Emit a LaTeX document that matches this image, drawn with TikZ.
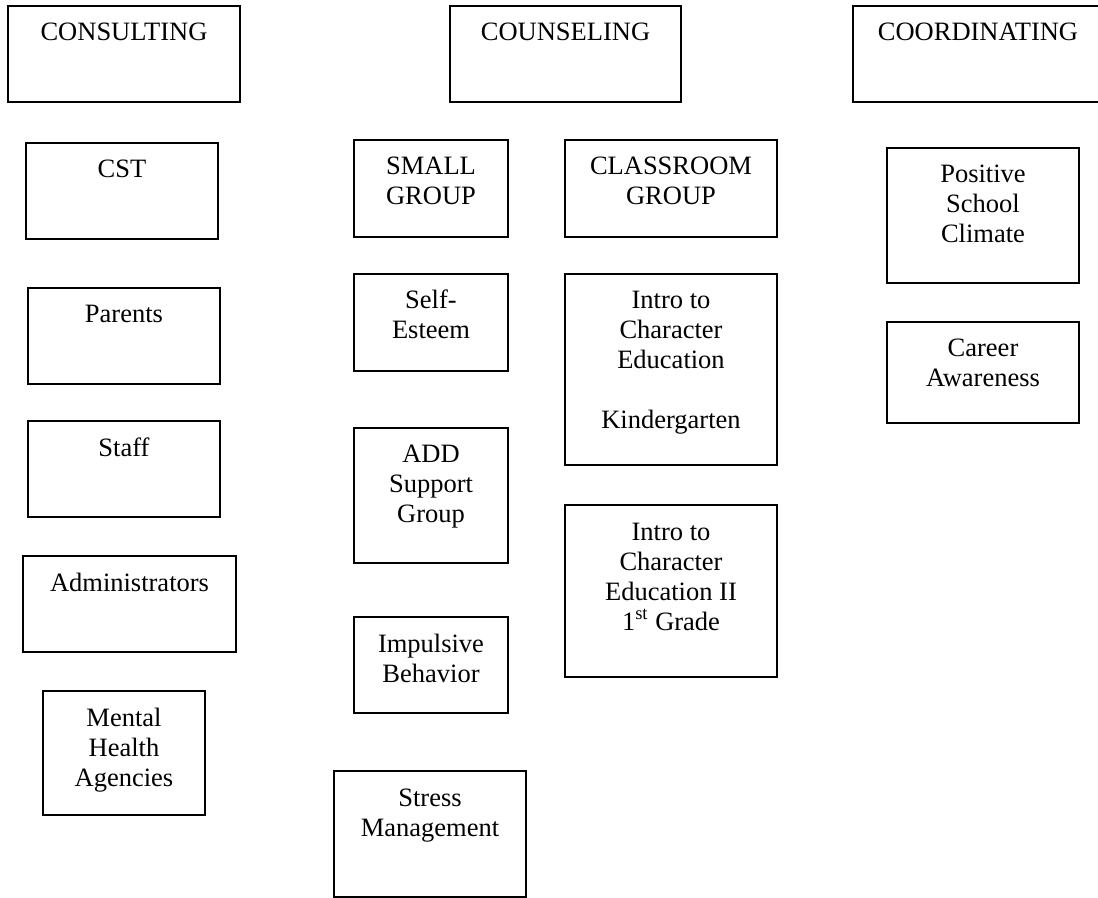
\documentclass[tikz,border=0pt]{standalone}
\usepackage{fontspec}
\setmainfont{Liberation Serif}

% top-aligned, centred text in a box of fixed size (width, height, text)
\newcommand{\boxtext}[3]{\parbox[c][#2][t]{#1}{\centering\rule{0pt}{17.5pt}#3}}

\begin{document}
\begin{tikzpicture}[
            x=0.5pt, y=-0.5pt,
            unit/.style={draw, line width=1pt, anchor=north west, inner sep=0pt, outer sep=0pt,
                         font=\fontsize{13.25pt}{15pt}\selectfont}
                           ]
            % 1. Page frame
            \useasboundingbox (0,0) rectangle (1098,898);
            \clip (0,0) rectangle (1098,898);

            % 2. The three headings
            \node[unit] (consulting)   at (8,6)   {\boxtext{116pt}{48pt}{CONSULTING}};
            \node[unit] (counseling)   at (450,6) {\boxtext{115.5pt}{48pt}{COUNSELING}};
            \node[unit] (coordinating) at (853,6) {\boxtext{125pt}{48pt}{COORDINATING}};

            % 3. Consulting column
            \node[unit] (cst)     at (26,143) {\boxtext{96pt}{48pt}{CST}};
            \node[unit] (parents) at (28,288) {\boxtext{96pt}{48pt}{Parents}};
            \node[unit] (staff)   at (28,421) {\boxtext{96pt}{48pt}{Staff}};
            \node[unit] (admin)   at (23,556) {\boxtext{106.5pt}{48pt}{Administrators}};
            \node[unit] (mental)  at (43,691) {\boxtext{81pt}{62pt}{Mental\\Health\\Agencies}};

            % 4. Counseling: small groups
            \node[unit] (small)      at (354,140) {\boxtext{77pt}{48.5pt}{SMALL\\GROUP}};
            \node[unit] (selfesteem) at (354,274) {\boxtext{77pt}{48.5pt}{Self-\\Esteem}};
            \node[unit] (add)        at (354,428) {\boxtext{77pt}{67.5pt}{ADD\\Support\\Group}};
            \node[unit] (impulsive)  at (354,617) {\boxtext{77pt}{48pt}{Impulsive\\Behavior}};
            \node[unit] (stress)     at (334,771) {\boxtext{96pt}{63pt}{Stress\\Management}};

            % 5. Counseling: classroom groups
            \node[unit] (classroom) at (565,140) {\boxtext{106pt}{48.5pt}{CLASSROOM\\GROUP}};
            \node[unit] (introk)    at (565,274) {\boxtext{106pt}{95.5pt}{Intro to\\Character\\Education\\[15pt]Kindergarten}};
            \node[unit] (introii)   at (565,505) {\boxtext{106pt}{86pt}{Intro to\\Character\\Education II\\1\textsuperscript{st} Grade}};

            % 6. Coordinating column
            \node[unit] (climate) at (887,148) {\boxtext{96pt}{67.5pt}{Positive\\School\\Climate}};
            \node[unit] (career)  at (887,322) {\boxtext{96pt}{50.5pt}{Career\\Awareness}};

        \end{tikzpicture}
\end{document}
